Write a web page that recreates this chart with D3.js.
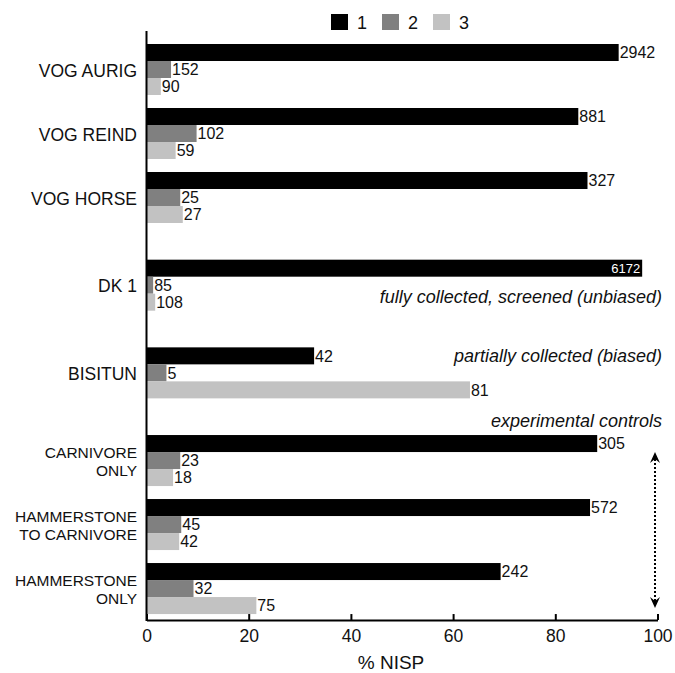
<!DOCTYPE html>
<html>
<head>
<meta charset="utf-8">
<script src="https://cdn.jsdelivr.net/npm/d3@7"></script>
<style>
  body { margin: 0; background: #fff; }
  svg { font-family: "Liberation Sans", Arial, sans-serif; }
</style>
</head>
<body>
<svg id="chart"></svg>
<script>
const categories = ["VOG AURIG", "VOG REIND", "VOG HORSE", "DK 1", "BISITUN",
    "CARNIVORE ONLY", "HAMMERSTONE TO CARNIVORE", "HAMMERSTONE ONLY"];
const categoryLines = [["VOG AURIG"], ["VOG REIND"], ["VOG HORSE"], ["DK 1"], ["BISITUN"],
    ["CARNIVORE", "ONLY"], ["HAMMERSTONE", "TO CARNIVORE"], ["HAMMERSTONE", "ONLY"]];
const seriesNames = ["1", "2", "3"];

// % NISP per class
const pct1 = [92.4, 84.5, 86.3, 97.0, 32.8, 88.2, 86.8, 69.3];
const pct2 = [4.8, 9.8, 6.6, 1.3, 3.9, 6.6, 6.8, 9.2];
const pct3 = [2.8, 5.7, 7.1, 1.7, 63.3, 5.2, 6.4, 21.5];
// NISP counts shown as labels
const count1 = [2942, 881, 327, 6172, 42, 305, 572, 242];
const count2 = [152, 102, 25, 85, 5, 23, 45, 32];
const count3 = [90, 59, 27, 108, 81, 18, 42, 75];

const xTicks = [0, 20, 40, 60, 80, 100];
const notes = ["fully collected, screened (unbiased)", "partially collected (biased)", "experimental controls"];

const colors = ["#000000", "#808080", "#c2c2c2"];

const width = 675;
const height = 673;
const plotLeft = 146.5;
const plotRight = 657.5;
const plotTop = 44;
const groupStep = 64;
const extraGap = 0.37;
const gapBefore = new Set(["DK 1", "BISITUN", "CARNIVORE ONLY"]);

const svg = d3.select("#chart")
    .attr("width", width)
    .attr("height", height);

// group slot positions (extra space before some groups)
let u = 0;
const slots = categories.map((c, i) => {
    if (i > 0) u += 1 + (gapBefore.has(c) ? extraGap : 0);
    return u;
});

const data = categories.map((c, i) => ({
    name: c,
    lines: categoryLines[i],
    slot: slots[i],
    values: [pct1[i], pct2[i], pct3[i]],
    counts: [count1[i], count2[i], count3[i]]
}));

const x = d3.scaleLinear().domain([0, 100]).range([plotLeft, plotRight]);
const y = d3.scaleLinear().domain([0, 1]).range([plotTop, plotTop + groupStep]);
const inner = d3.scaleBand()
    .domain(seriesNames)
    .range([0, groupStep * 0.797]);

const lastBottom = y(d3.max(slots)) + inner.range()[1];
const axisY = lastBottom + 6;

// bars
const groups = svg.selectAll(".grp")
    .data(data)
    .join("g")
        .attr("class", "grp")
        .attr("transform", d => "translate(0," + y(d.slot) + ")");

groups.selectAll("rect")
    .data(d => d.values.map((v, k) => ({v: v, k: k, n: d.counts[k]})))
    .join("rect")
        .attr("x", x(0))
        .attr("y", d => inner(seriesNames[d.k]))
        .attr("width", d => x(d.v) - x(0))
        .attr("height", inner.bandwidth())
        .style("fill", d => colors[d.k]);

groups.selectAll(".val")
    .data(d => d.values.map((v, k) => ({v: v, k: k, n: d.counts[k]})))
    .join("text")
        .attr("class", "val")
        .attr("x", d => d.v > 95 ? x(d.v) - 2 : x(d.v) + 1)
        .attr("y", d => inner(seriesNames[d.k]) + inner.bandwidth() / 2)
        .attr("dy", "0.36em")
        .attr("text-anchor", d => d.v > 95 ? "end" : "start")
        .style("font-size", d => d.v > 95 ? "13px" : "16px")
        .style("fill", d => d.v > 95 ? "#fff" : "#111")
        .text(d => d.n);

// category labels
groups.each(function(d) {
    const g = d3.select(this);
    const mid = inner.range()[1] / 2;
    const fs = d.lines.length > 1 ? 15.5 : 17.5;
    d.lines.forEach((line, j) => {
        g.append("text")
            .attr("x", 137)
            .attr("y", mid + 1 + (j - (d.lines.length - 1) / 2) * 18)
            .attr("dy", "0.36em")
            .attr("text-anchor", "end")
            .style("font-size", fs + "px")
            .style("fill", "#111")
            .text(line);
    });
});

// axes
const xAxis = svg.append("g")
    .attr("transform", "translate(0," + axisY + ")")
    .call(d3.axisBottom(x).tickValues(xTicks).tickSizeInner(-6).tickSizeOuter(0).tickPadding(10));
xAxis.select(".domain").attr("stroke-width", 2);
xAxis.selectAll(".tick line").attr("stroke-width", 2);
xAxis.selectAll("text")
    .style("font-size", "17.5px")
    .style("font-family", "Liberation Sans, Arial, sans-serif")
    .style("fill", "#111");

svg.append("line")
    .attr("x1", x(0)).attr("x2", x(0))
    .attr("y1", 31).attr("y2", axisY + 1)
    .attr("stroke", "#000")
    .attr("stroke-width", 2);

svg.append("text")
    .attr("x", 391)
    .attr("y", 669)
    .attr("text-anchor", "middle")
    .style("font-size", "19px")
    .style("fill", "#111")
    .text("% NISP");

// legend
const legend = svg.append("g").attr("transform", "translate(331,14)");
const li = legend.selectAll("g")
    .data(seriesNames)
    .join("g")
        .attr("transform", (d, i) => "translate(" + i * 51 + ",0)");
li.append("rect")
    .attr("width", 17)
    .attr("height", 16)
    .style("fill", (d, i) => colors[i]);
li.append("text")
    .attr("x", 26)
    .attr("y", 15)
    .style("font-size", "18px")
    .style("fill", "#111")
    .text(d => d);

// annotations
const dk = data[3], bis = data[4], carn = data[5], ham = data[7];
const noteY = [
    y(dk.slot) + inner(seriesNames[2]) + 9,
    y(bis.slot) + inner.bandwidth() / 2 + 6,
    y(carn.slot) - 8
];
svg.selectAll(".note")
    .data(notes)
    .join("text")
        .attr("class", "note")
        .attr("x", 662)
        .attr("y", (d, i) => noteY[i])
        .attr("text-anchor", "end")
        .style("font-size", "18px")
        .style("font-style", "italic")
        .style("fill", "#111")
        .text(d => d);

// dotted double arrow
const ax = 655;
const ay1 = y(carn.slot) + inner.bandwidth();
const ay2 = y(ham.slot) + inner.range()[1] - 6;
svg.append("line")
    .attr("x1", ax).attr("x2", ax)
    .attr("y1", ay1 + 7).attr("y2", ay2 - 7)
    .attr("stroke", "#000")
    .attr("stroke-width", 2)
    .attr("stroke-dasharray", "2,2");
const head = d3.line();
svg.append("path")
    .attr("d", head([[ax - 5, ay1 + 11], [ax, ay1], [ax + 5, ay1 + 11], [ax, ay1 + 7]]) + "Z")
    .style("fill", "#000");
svg.append("path")
    .attr("d", head([[ax - 5, ay2 - 11], [ax, ay2], [ax + 5, ay2 - 11], [ax, ay2 - 7]]) + "Z")
    .style("fill", "#000");
</script>
</body>
</html>
